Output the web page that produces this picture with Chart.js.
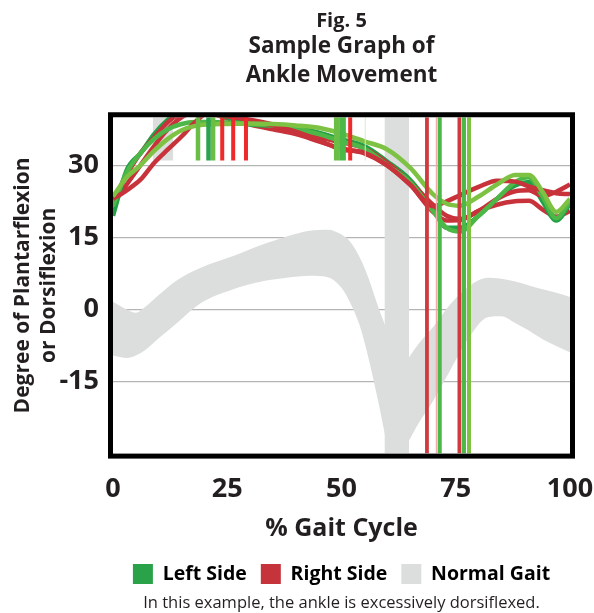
<!DOCTYPE html>
<html lang="en">
<head>
<meta charset="UTF-8">
<style>
  html, body { margin: 0; padding: 0; background: #fff; }
  .caixa { width: 594px; height: 613px; position: relative; }
</style>
</head>
<body>
<div class="caixa"><canvas id="grafico"></canvas></div>

<script src="https://cdn.jsdelivr.net/npm/chart.js"></script>
<script>
  // eixos
  const xTicks = [0, 25, 50, 75, 100];
  const yTicks = [-15, 0, 15, 30];

  // curvas (% do ciclo x graus)
  const curvaX = [0, 3, 6, 9, 12, 15, 18, 21, 25, 30, 35, 40, 45, 50, 55, 60, 65, 70, 73, 76, 80, 84, 88, 91, 94, 97, 100];
  const esquerdo1 = [19.5, 29, 32.5, 36.5, 39.5, 41.5, 42, 41, 40, 38.5, 38.3, 37.9, 36.8, 35.4, 34, 30.8, 27, 21, 17, 17, 19.5, 23, 25.8, 26.5, 22.5, 18.5, 22];
  const esquerdo2 = [21.5, 28.5, 32.5, 35.5, 37.5, 38.6, 39, 39, 38.9, 38.6, 38.3, 37.6, 36.5, 35, 33.5, 30, 26.5, 20.5, 17, 16.2, 19.5, 23, 26.5, 27.5, 23.5, 19, 22.5];
  const esquerdo3 = [23.5, 27.5, 30, 33, 35.5, 37.3, 38.2, 38.5, 38.6, 38.7, 38.6, 38.3, 37.8, 36.6, 35, 33.3, 29.5, 24, 22, 21.6, 23.5, 26, 28, 28, 24.5, 20.3, 23];
  const direito1 = [23, 24.8, 27, 30.5, 33.3, 36, 39, 41, 40.5, 39.3, 38.3, 37, 35.2, 33.3, 32.6, 30, 26, 21.5, 22.5, 23.8, 25.5, 26.8, 26.6, 25.6, 24.8, 24.2, 24];
  const direito2 = [22.5, 28, 32.5, 35.8, 39, 41, 42, 41.5, 40.2, 39.5, 38.5, 37.2, 35.8, 34.8, 33.5, 30.5, 26.5, 21.8, 19.5, 18.8, 20.5, 23, 24.6, 24.8, 23.6, 24.5, 26];
  const direito3 = [22, 26, 30, 34, 37.5, 40, 41, 40.8, 39.8, 38.5, 37.5, 36.5, 35, 33.5, 32.5, 30, 26, 20.3, 18.5, 18.6, 20.5, 21.8, 22.5, 22.6, 20.8, 19.3, 20.5];

  // faixa da marcha normal
  const faixaEsqX = [0, 3, 5, 7, 10, 14, 19, 26, 33, 38, 43, 47, 50, 52, 54, 56, 58, 59.6];
  const faixaEsqAlta = [1.6, 0, -0.7, 0.5, 3, 6.1, 8.6, 11, 13.6, 15.2, 16.4, 16.6, 15.6, 14, 10.8, 6.3, 0.6, -3.5];
  const faixaEsqBaixa = [-9.6, -10.1, -9.6, -8.5, -6, -2.8, 1.2, 4.1, 5.9, 6.6, 7, 6.7, 4.5, 1.2, -3.4, -10.5, -19, -26.5];
  const faixaDirX = [64.6, 67, 70, 74, 78, 82, 85, 88, 91, 94, 97, 100];
  const faixaDirAlta = [-10.2, -7, -3.7, 1.3, 4.9, 6.6, 6.4, 5.8, 5, 4.2, 3.5, 2.6];
  const faixaDirBaixa = [-27.6, -23.5, -19.1, -12.3, -5.7, -1.6, -1.4, -2.8, -4.4, -6.2, -7.6, -8.9];
  const barraCinzaX = [59.4, 64.8];
  const blocoCinzaX = [8.7, 13.2];
  const blocoCinzaY = [31, 40];

  // marcas verticais (eventos)
  const marcasTopoEsq = [18.6, 20.9, 21.9];
  const marcasTopoDir = [23.9, 26.3, 29.1];
  const marcasMeioEsq = [49.0, 50.3];
  const marcasMeioDir = [51.9];
  const marcasLongasEsq = [71.5, 76.8, 77.9];
  const marcasLongasDir = [68.7, 75.8];
  const marcaRosa = [70.8];
  const marcaClara = [55.2];
  const alturaCurta = [31, 40];
  const alturaLonga = [-30, 40];

  const corVerde = '#2aa24a';
  const corVermelho = '#c5343b';
  const corCinza = '#dcdddd';
  const corTexto = '#231f20';
  const fonte = "'Open Sans', sans-serif";

  const pontos = (xs, ys) => xs.map((x, i) => ({ x: x, y: ys[i] }));

  function marca(x, faixa, cor, largura) {
    return {
      data: [{ x: x, y: faixa[0] }, { x: x, y: faixa[1] }],
      borderColor: cor, borderWidth: largura, pointRadius: 0, tension: 0, fill: false
    };
  }

  function curva(ys, cor) {
    return {
      data: pontos(curvaX, ys),
      borderColor: cor, borderWidth: 4.5, pointRadius: 0,
      cubicInterpolationMode: 'monotone', fill: false
    };
  }

  const coresTopoEsq = ['#6abd45', '#2ba24c', '#6abd45'];
  const coresMeioEsq = ['#6abd45', '#4cb848'];
  const coresLongasEsq = ['#4cb848', '#4cb848', '#7dc242'];

  const datasets = [];
  marcasTopoEsq.forEach((x, i) => datasets.push(marca(x, alturaCurta, coresTopoEsq[i], 4.5)));
  marcasTopoDir.forEach(x => datasets.push(marca(x, alturaCurta, '#ee2a2a', 4)));
  marcasMeioEsq.forEach((x, i) => datasets.push(marca(x, alturaCurta, coresMeioEsq[i], 6)));
  marcasMeioDir.forEach(x => datasets.push(marca(x, alturaCurta, '#ee2a2a', 4)));
  marcasLongasEsq.forEach((x, i) => datasets.push(marca(x, alturaLonga, coresLongasEsq[i], 4)));
  marcasLongasDir.forEach(x => datasets.push(marca(x, alturaLonga, '#cf3a3e', 3.8)));
  marcaRosa.forEach(x => datasets.push(marca(x, alturaLonga, '#f2a9a9', 1.5)));
  marcaClara.forEach(x => datasets.push(marca(x, alturaCurta, '#d5ebcc', 1)));

  datasets.push(curva(esquerdo3, '#7dc242'));
  datasets.push(curva(direito1, '#c8323a'));
  datasets.push(curva(esquerdo2, '#4db848'));
  datasets.push(curva(direito2, '#c8323a'));
  datasets.push(curva(esquerdo1, '#22a046'));
  datasets.push(curva(direito3, '#c8323a'));

  // cinza por baixo de tudo
  datasets.push({ data: pontos(blocoCinzaX, [blocoCinzaY[1], blocoCinzaY[1]]), borderWidth: 0, pointRadius: 0,
    backgroundColor: corCinza, fill: { value: blocoCinzaY[0] } });
  datasets.push({ data: pontos(barraCinzaX, [40, 40]), borderWidth: 0, pointRadius: 0,
    backgroundColor: corCinza, fill: 'start' });
  datasets.push({ data: pontos(faixaEsqX, faixaEsqAlta), borderWidth: 0, pointRadius: 0,
    cubicInterpolationMode: 'monotone', backgroundColor: corCinza, fill: '+1' });
  datasets.push({ data: pontos(faixaEsqX, faixaEsqBaixa), borderWidth: 0, pointRadius: 0,
    cubicInterpolationMode: 'monotone', fill: false });
  datasets.push({ data: pontos(faixaDirX, faixaDirAlta), borderWidth: 0, pointRadius: 0,
    cubicInterpolationMode: 'monotone', backgroundColor: corCinza, fill: '+1' });
  datasets.push({ data: pontos(faixaDirX, faixaDirBaixa), borderWidth: 0, pointRadius: 0,
    cubicInterpolationMode: 'monotone', fill: false });

  // moldura preta e legenda de rodape
  const moldura = {
    id: 'moldura',
    afterDatasetsDraw(chart) {
      const { ctx, chartArea: a } = chart;
      ctx.save();
      ctx.strokeStyle = '#000';
      ctx.lineWidth = 5;
      ctx.strokeRect(a.left - 2.5, a.top - 2.5, a.right - a.left + 5, a.bottom - a.top + 5);
      ctx.restore();
    },
    afterDraw(chart) {
      const { ctx, chartArea: a } = chart;
      ctx.save();
      ctx.fillStyle = corTexto;
      ctx.font = "16.5px " + fonte;
      ctx.textAlign = 'center';
      ctx.textBaseline = 'middle';
      ctx.fillText('In this example, the ankle is excessively dorsiflexed.', (a.left + a.right) / 2, 603);
      ctx.restore();
    }
  };

  const grafico = new Chart(document.getElementById('grafico'), {
    type: 'line',
    data: { datasets: datasets },
    plugins: [moldura],
    options: {
      responsive: true,
      maintainAspectRatio: false,
      animation: false,
      layout: { padding: { left: 0, right: 0, top: 0, bottom: 19 } },
      scales: {
        x: {
          type: 'linear', min: 0, max: 100,
          afterBuildTicks: s => { s.ticks = xTicks.map(v => ({ value: v })); },
          afterFit: s => { s.paddingRight = 24; s.paddingLeft = 0; },
          grid: { display: false, drawTicks: false },
          border: { display: false },
          ticks: { color: corTexto, padding: 20, font: { family: fonte, size: 27, weight: 'bold' } },
          title: {
            display: true, text: '% Gait Cycle', color: corTexto,
            font: { family: fonte, size: 25, weight: 'bold' }, padding: { top: -12, bottom: 6 }
          }
        },
        y: {
          min: -30, max: 40,
          afterBuildTicks: s => { s.ticks = yTicks.map(v => ({ value: v })); },
          afterFit: s => { s.width = 113; },
          grid: { color: '#b5b5b5', lineWidth: 1.2, drawTicks: false },
          border: { display: false },
          ticks: { color: corTexto, padding: 14, font: { family: fonte, size: 27, weight: 'bold' } },
          title: {
            display: true, text: ['Degree of Plantarflexion', 'or Dorsiflexion'], color: corTexto,
            font: { family: fonte, size: 21, weight: 'bold', lineHeight: 1.25 }, padding: { top: 10, bottom: 0 }
          }
        }
      },
      plugins: {
        tooltip: { enabled: false },
        subtitle: {
          display: true, text: 'Fig. 5', color: corTexto, fullSize: false, weight: 2500,
          font: { family: fonte, size: 20, weight: 'bold', lineHeight: 1.2 }, padding: { top: 9, bottom: 0 }
        },
        title: {
          display: true, text: ['Sample Graph of', 'Ankle Movement'], color: corTexto, fullSize: false,
          font: { family: fonte, size: 22.5, weight: 'bold', lineHeight: 1.25 }, padding: { top: 0, bottom: 28 }
        },
        legend: {
          position: 'bottom', fullSize: false,
          labels: {
            boxWidth: 20, boxHeight: 20, padding: 14, color: corTexto,
            font: { family: fonte, size: 19.5, weight: 'bold' },
            generateLabels: () => [
              { text: 'Left Side', fillStyle: corVerde, strokeStyle: corVerde, lineWidth: 0, datasetIndex: 0 },
              { text: 'Right Side', fillStyle: corVermelho, strokeStyle: corVermelho, lineWidth: 0, datasetIndex: 1 },
              { text: 'Normal Gait', fillStyle: corCinza, strokeStyle: corCinza, lineWidth: 0, datasetIndex: 2 }
            ]
          },
          onClick: () => {}
        }
      }
    }
  });
</script>
</body>
</html>
